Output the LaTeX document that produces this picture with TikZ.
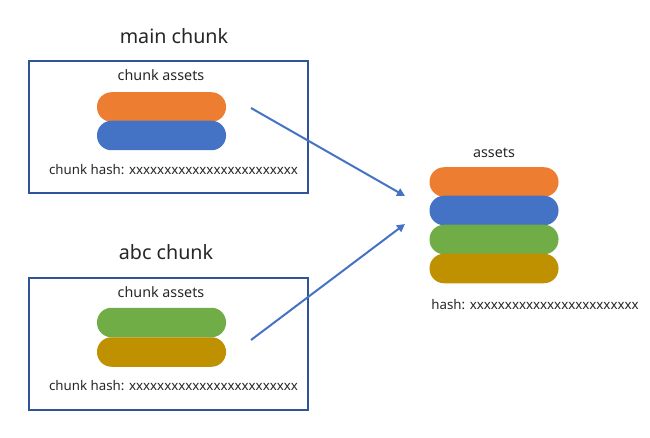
\documentclass[tikz,border=0pt]{standalone}
\usepackage{fontspec}
\setmainfont{Noto Sans}
\usetikzlibrary{arrows.meta}
\definecolor{oorange}{HTML}{ED7D31}
\definecolor{oblue}{HTML}{4472C4}
\definecolor{ogreen}{HTML}{70AD47}
\definecolor{ogold}{HTML}{BF9000}
\definecolor{boxblue}{HTML}{2F5597}
\definecolor{txt}{HTML}{262626}
\tikzset{
  pill/.style={minimum width=129pt, minimum height=29.5pt, rounded corners=14.5pt, inner sep=0pt, draw=none},
  chunkbox/.style={draw=boxblue, line width=2pt, minimum width=279pt, minimum height=132pt, inner sep=0pt},
  title/.style={text=txt, font=\fontsize{19.7}{22}\selectfont, inner sep=0pt},
  label/.style={text=txt, font=\fontsize{13.3}{15}\selectfont, inner sep=0pt},
  heading/.style={text=txt, font=\fontsize{14.3}{16}\selectfont, inner sep=0pt},
  link/.style={draw=oblue, line width=2pt, -{Triangle[length=8pt,width=8pt]}}
}
\begin{document}
\begin{tikzpicture}[x=1pt,y=-1pt]
\useasboundingbox (0,0) rectangle (650,438);
% main chunk
\node[title] (t1) at (174,36) {main chunk};
\node[chunkbox] (b1) at (168.5,127) {};
\node[heading] (ca1) at (161,75) {chunk assets};
\node[pill, fill=oorange] (p1) at (161.5,107) {};
\node[pill, fill=oblue] (p2) at (161.5,135.5) {};
\node[label] (h1) at (173.5,170) {chunk hash: xxxxxxxxxxxxxxxxxxxxxxxx};
% abc chunk
\node[title] (t2) at (166,252) {abc chunk};
\node[chunkbox] (b2) at (168.5,343.5) {};
\node[heading] (ca2) at (161,292) {chunk assets};
\node[pill, fill=ogreen] (p3) at (161.5,322.5) {};
\node[pill, fill=ogold] (p4) at (161.5,352) {};
\node[label] (h2) at (173.5,386) {chunk hash: xxxxxxxxxxxxxxxxxxxxxxxx};
% assets
\node[heading] (ca3) at (494,153) {assets};
\node[pill, fill=oorange] (q1) at (494,182) {};
\node[pill, fill=oblue] (q2) at (494,210.5) {};
\node[pill, fill=ogreen] (q3) at (494,239.5) {};
\node[pill, fill=ogold] (q4) at (494,268.5) {};
\node[label] (h3) at (535,305) {hash: xxxxxxxxxxxxxxxxxxxxxxxx};
% arrows
\coordinate (s1) at (251,108);
\coordinate (e1) at (405,196);
\coordinate (s2) at (251,340);
\coordinate (e2) at (405,224);
\draw[link] (s1) -- (e1);
\draw[link] (s2) -- (e2);
\end{tikzpicture}
\end{document}
